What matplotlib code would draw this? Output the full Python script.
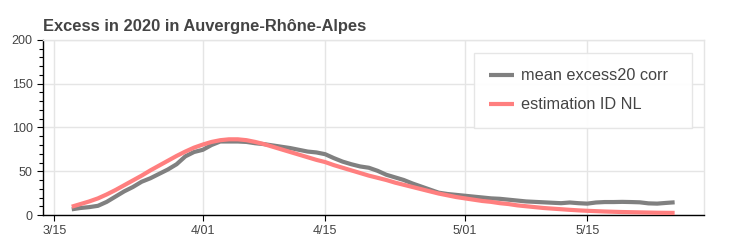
import matplotlib
matplotlib.use("Agg")
import matplotlib.pyplot as plt
import matplotlib.dates as mdates
from matplotlib.ticker import MultipleLocator
import numpy as np
import pandas as pd

# ---- data ----
start_date = "2020-03-17"
excess_mean = [6.5, 8, 9, 10.5, 15, 21, 27, 32, 38, 42, 47, 52, 58, 67, 72,
               74.5, 80, 84, 84, 84, 83.5, 82, 81, 79.5, 78, 76.5, 74.5, 72.5, 71.5, 69.5,
               65, 61, 58, 55.5, 54, 50.5, 46, 43, 40, 36, 32.5, 29, 25.5, 24, 23,
               22, 21, 20, 19, 18.5, 17.5, 16.5, 15.5, 15, 14.5, 14, 13.5, 14.3, 13.5, 13,
               14.3, 14.8, 14.8, 15, 14.8, 14.5, 13.3, 13, 13.8, 14.5]
estimation = [9.5, 12.5, 15.5, 19, 23.5, 28.5, 34, 39.5, 45, 51, 56.5, 62, 67.5, 72.5, 77,
              80.5, 83.5, 85.5, 86.5, 86.5, 85.5, 83.5, 81, 78, 75, 72, 69, 66, 63, 60.5,
              57, 54, 51, 48, 45, 42.5, 40, 37, 34.5, 32, 29.5, 27, 24.5, 22.5, 20.5,
              19, 17.5, 16, 15, 13.5, 12.5, 11, 10, 9, 8, 7.3, 6.6, 5.9, 5.3, 4.8,
              4.4, 4.0, 3.7, 3.4, 3.2, 3.0, 2.8, 2.6, 2.5, 2.4]
series_labels = ["mean excess20 corr", "estimation ID NL"]
tick_dates = ["2020-03-15", "2020-04-01", "2020-04-15", "2020-05-01", "2020-05-15"]
tick_labels = ["3/15", "4/01", "4/15", "5/01", "5/15"]
y_ticks = [0, 50, 100, 150, 200]
title = "Excess in 2020 in Auvergne-Rhône-Alpes"

dates = pd.date_range(start_date, periods=len(excess_mean), freq="D")

plt.rcParams['font.family'] = ['Liberation Sans', 'DejaVu Sans']

W, H = 741, 247
fig = plt.figure(figsize=(W / 100, H / 100), dpi=100)
L, R, T, B = 43, 704, 40, 215
ax = fig.add_axes([L / W, 1 - B / H, (R - L) / W, (B - T) / H])

grid_c = "#e5e5e5"
text_c = "#444444"

ax.plot(dates, excess_mean, color="#808080", lw=3.0, label=series_labels[0],
        solid_capstyle="butt", zorder=3)
ax.plot(dates, estimation, color="#ff7f7f", lw=3.0, label=series_labels[1],
        solid_capstyle="butt", zorder=4)

x0 = pd.Timestamp("2020-03-15")
ax.set_xlim(x0 - pd.Timedelta(days=1.29), x0 + pd.Timedelta(days=74.36))
ax.set_ylim(0, 200)

ax.set_xticks(pd.to_datetime(tick_dates))
ax.set_xticklabels(tick_labels)
ax.set_yticks(y_ticks)
ax.yaxis.set_minor_locator(MultipleLocator(10))

ax.grid(True, which="major", color=grid_c, lw=1.0)
ax.set_axisbelow(True)

for s in ["top", "right"]:
    ax.spines[s].set_color(grid_c)
    ax.spines[s].set_linewidth(1.0)
for s in ["left", "bottom"]:
    ax.spines[s].set_color("black")
    ax.spines[s].set_linewidth(1.0)

ax.tick_params(axis="both", which="major", direction="out", length=4.5, width=0.8,
               color="black", labelcolor=text_c, labelsize=9, pad=3)
ax.tick_params(axis="y", which="minor", direction="out", length=3, width=0.8, color="black")

fig.text(L / W, 1 - 30.5 / H, title, fontsize=11.85, fontweight="bold", color=text_c,
         ha="left", va="baseline")

bx0 = (474 - L) / (R - L)
bw = (692 - 474) / (R - L)
by0 = (B - 130) / (B - T)
bh = (130 - 53) / (B - T)
leg = ax.legend(loc="upper left", bbox_to_anchor=(bx0, by0, bw, bh), mode="expand",
                borderaxespad=0, frameon=True, fancybox=False, framealpha=0.95,
                edgecolor=grid_c, fontsize=11.7, handlelength=1.5, handletextpad=0.45,
                labelspacing=0.86, borderpad=0.95)
leg.get_frame().set_linewidth(1.0)
for t in leg.get_texts():
    t.set_color(text_c)

fig.savefig("out.png", dpi=100)
